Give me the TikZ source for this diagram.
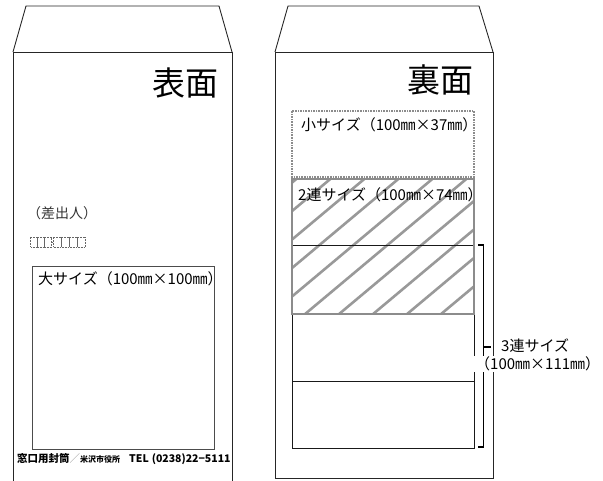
\documentclass[tikz,border=0pt]{standalone}
\usepackage{fontspec}
\setmainfont{Noto Sans CJK JP}
\begin{document}
\begin{tikzpicture}[x=1pt,y=-1pt,
  env/.style={draw=black!85, line width=0.9pt},
  lbl/.style={font=\fontsize{15}{15}\selectfont, inner sep=0pt},
  title/.style={font=\fontsize{33}{33}\selectfont, inner sep=0pt},
  hatchline/.style={draw=black!40, line width=2.6pt},
  thinbox/.style={draw=black!90, line width=0.8pt},
  graybox/.style={draw=black!45, line width=2.6pt},
  dotbox/.style={draw=black!45, line width=1.6pt, densely dotted},
  postal/.style={draw=black!60, line width=0.5pt, densely dotted},
  brk/.style={draw=black, line width=1.1pt}]
\clip (0,0) rectangle (603,481);
% ---------- left envelope (front) ----------
\draw[env] (13,52) -- (26,6) -- (219,6) -- (232,52);
\draw[env] (13,52) rectangle (232,495);
\node[title, anchor=east] (omote) at (219,83) {表面};
\node[font=\fontsize{14}{14}\selectfont, inner sep=0pt, anchor=west, text=black!80] (sender) at (27,213) {（差出人）};
\foreach \i in {0,1,2} \draw[postal] (30.5+7*\i,237) rectangle ++(7,10);
\draw[postal] (51.5,242) -- (53,242);
\foreach \i in {0,1,2,3} \draw[postal] (53+8*\i,237) rectangle ++(8,10);
\draw[thinbox, draw=black!70, line width=1pt] (32,267) rectangle (214,449);
\node[lbl, anchor=west] (large) at (38,279) {大サイズ（100㎜×100㎜）};
\node[anchor=west, inner sep=0pt] (foot) at (17,459)
  {\bfseries\fontsize{10.5}{10.5}\selectfont 窓口用封筒{\mdseries\color{black!40}／}\fontsize{8}{8}\selectfont 米沢市役所\hspace{9pt}\fontsize{10.5}{10.5}\selectfont TEL\hspace{3pt}(0238)22−5111};
% ---------- right envelope (back) ----------
\draw[env] (275,52) -- (288,6) -- (479,6) -- (493,52);
\draw[env] (275,52) rectangle (493,478);
\node[title, anchor=east] (ura) at (474,80) {裏面};
% small size
\draw[dotbox] (292,111) rectangle (474,177);
\node[lbl, anchor=west] (small) at (301,125) {小サイズ（100㎜×37㎜）};
% hatched double size
\begin{scope}
  \clip (292,179) rectangle (474,314);
  \foreach \xb in {101,135,...,679}
    \draw[hatchline] (\xb-19,330) -- ++(203,-170);
\end{scope}
% triple size
\draw[thinbox] (292,245) rectangle (474,448);
\draw[thinbox] (292,381) -- (474,381);
\draw[graybox] (292,179) rectangle (474,314);
\node[lbl, anchor=west] (double) at (298,195) {2連サイズ（100㎜×74㎜）};
% bracket
\coordinate (bt) at (478,245);
\coordinate (bb) at (478,447);
\coordinate (bm) at (483.5,347);
\draw[brk] (bt) -- ++(5.5,0) |- (bb);
\draw[brk] (bm) -- ++(7,0);
\node[lbl, anchor=west] (triple1) at (501,346) {3連サイズ};
\node[lbl, anchor=west, fill=white, inner xsep=1pt, inner ysep=1pt] (triple2) at (474,364) {（100㎜×111㎜）};
\end{tikzpicture}
\end{document}
